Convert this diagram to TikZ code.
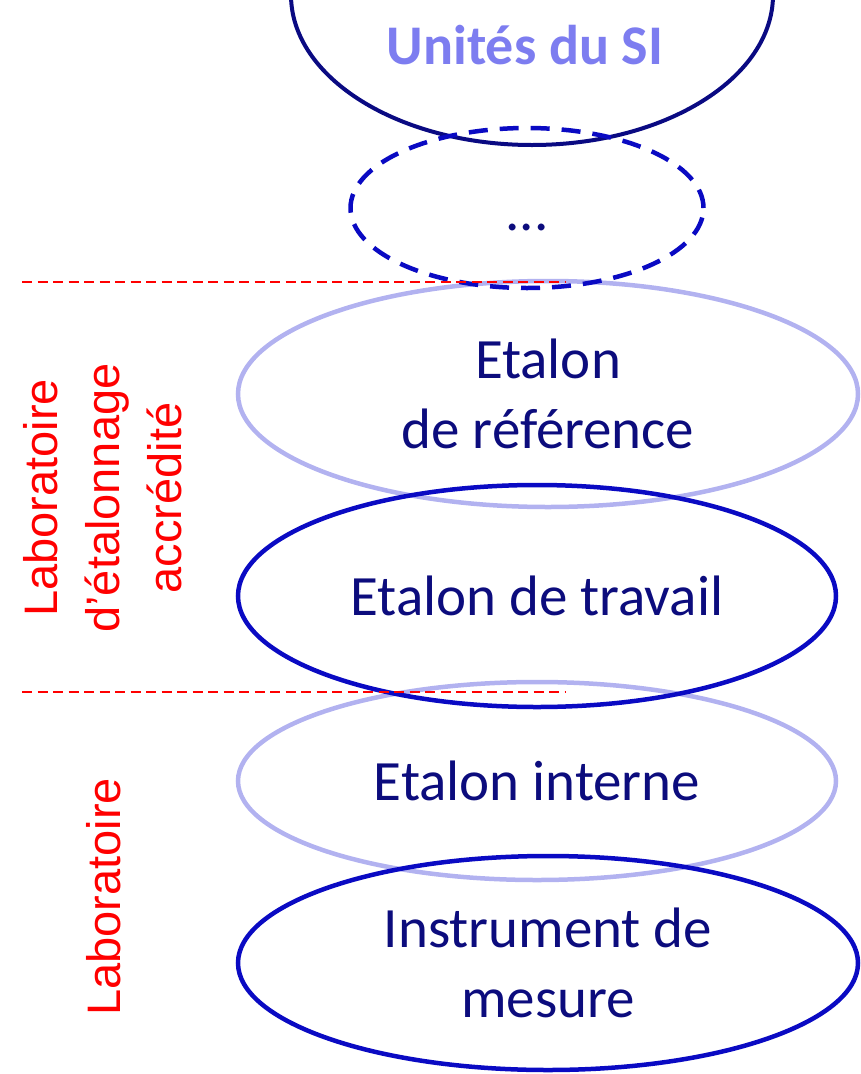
\documentclass[tikz,border=0pt]{standalone}
\usepackage{fontspec}
\setmainfont{Carlito}
\newfontfamily\sidefont{Liberation Sans}
\usetikzlibrary{
  shapes.geometric,
  positioning
}
\definecolor{navy}{RGB}{12,12,125}
\definecolor{deepblue}{RGB}{10,10,195}
\definecolor{paleblue}{RGB}{178,178,240}
\definecolor{siblue}{RGB}{125,125,240}
\definecolor{siedge}{RGB}{10,10,130}
\tikzset{
  level/.style = {ellipse, draw=deepblue, line width=4.5pt, text=navy,
      minimum width=#1, inner sep=0pt, align=center,
      font=\fontsize{57}{70}\selectfont},
  level/.default = 598pt, % width of the ellipse
  pale/.style = {level=#1, draw=paleblue},
  pale/.default = 598pt,
  zone/.style = {red, dash pattern=on 10pt off 5.5pt, line width=2.5pt},
  side/.style = {text=red, rotate=90, align=center,
      font=\sidefont\fontsize{47}{62}\selectfont},
}

\begin{document}
\begin{tikzpicture}[x=1pt, y=-1pt]
  \useasboundingbox (0,0) rectangle (861,1074);
  \clip (0,0) rectangle (861,1074);

  % pale levels below
  \node[pale=620pt, minimum height=226pt] (ref) at (548,394) {Etalon\\de référence};
  \node[pale, minimum height=198pt] (int) at (537,781) {Etalon interne};

  % strong levels
  \node[level=482pt, minimum height=300pt, draw=siedge, line width=4pt] (si) at (532,-5) {};
  \node[text=siblue, font=\bfseries\fontsize{56}{66}\selectfont] (sitxt) at (525,45) {Unités du SI};
  \node[level=353pt, minimum height=160pt, dash pattern=on 19pt off 12pt,
    text height=44pt, text depth=0pt] (more) at (527,208) {...};
  \node[level, minimum height=222pt] (trav) at (537,596) {Etalon de travail};
  \node[level=620pt, minimum height=214pt] (instr) at (548,963) {Instrument de\\mesure};

  \draw[zone] (22,282) -- (565,282);
  \draw[zone] (22,692) -- (565,692);

  \node[side] (acc) at (103,498) {Laboratoire\\d’étalonnage\\accrédité};
  \node[side] (lab) at (104,897) {Laboratoire};
\end{tikzpicture}
\end{document}
